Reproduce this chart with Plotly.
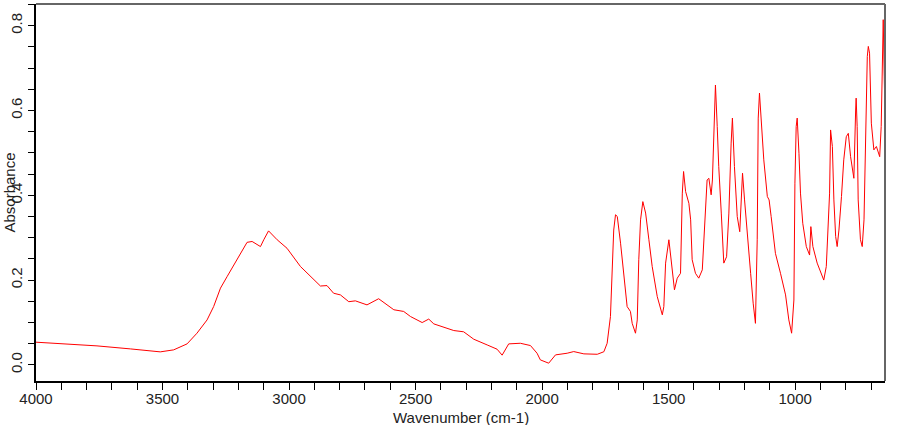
import plotly.graph_objects as go

wavenumber = [4000, 3891, 3759, 3627, 3509, 3456, 3403, 3364, 3324, 3298, 3271, 3245, 3205, 3166, 3146,
              3113, 3100, 3081, 3047, 3008, 2955, 2916, 2876, 2850, 2824, 2797, 2764, 2738, 2692, 2646,
              2586, 2547, 2520, 2474, 2448, 2428, 2389, 2349, 2310, 2270, 2217, 2178, 2158, 2132, 2086,
              2046, 2020, 2007, 1974, 1947, 1901, 1875, 1835, 1782, 1756, 1743, 1730, 1723, 1717, 1710,
              1703, 1690, 1677, 1664, 1651, 1644, 1631, 1624, 1618, 1611, 1602, 1591, 1578, 1565, 1545,
              1525, 1519, 1512, 1499, 1486, 1477, 1466, 1453, 1446, 1441, 1433, 1420, 1413, 1407, 1394,
              1381, 1367, 1358, 1348, 1341, 1332, 1327, 1321, 1315, 1308, 1302, 1292, 1282, 1271, 1262,
              1253, 1248, 1240, 1229, 1219, 1213, 1208, 1200, 1189, 1176, 1166, 1157, 1150, 1146, 1141,
              1134, 1124, 1110, 1103, 1095, 1078, 1058, 1038, 1025, 1014, 1005, 1001, 996, 992, 985,
              979, 970, 956, 943, 938, 930, 913, 887, 877, 871, 864, 860, 853, 847, 840,
              834, 827, 817, 808, 798, 790, 781, 768, 761, 759, 755, 751, 742, 735, 728,
              722, 715, 711, 706, 699, 689, 679, 666, 660, 656, 652, 648, 646]

absorbance = [0.0535, 0.0495, 0.0448, 0.0377, 0.0307, 0.0354, 0.0495, 0.0747, 0.106, 0.1375, 0.181, 0.208, 0.248, 0.289, 0.291,
              0.279, 0.295, 0.316, 0.295, 0.275, 0.232, 0.210, 0.186, 0.187, 0.169, 0.165, 0.149, 0.151, 0.1415, 0.156,
              0.130, 0.126, 0.114, 0.0998, 0.108, 0.0967, 0.0889, 0.081, 0.078, 0.0605, 0.047, 0.037, 0.0229, 0.0495, 0.051,
              0.0456, 0.0275, 0.0118, 0.004, 0.0236, 0.0275, 0.0314, 0.026, 0.025, 0.031, 0.051, 0.114, 0.248, 0.318, 0.354,
              0.350, 0.287, 0.208, 0.1375, 0.126, 0.098, 0.0747, 0.106, 0.248, 0.342, 0.385, 0.358, 0.295, 0.232, 0.161,
              0.118, 0.1375, 0.240, 0.295, 0.232, 0.177, 0.2045, 0.216, 0.405, 0.456, 0.409, 0.381, 0.342, 0.248, 0.216,
              0.2045, 0.224, 0.334, 0.436, 0.440, 0.401, 0.436, 0.554, 0.660, 0.562, 0.468, 0.358, 0.240, 0.255, 0.358,
              0.523, 0.582, 0.468, 0.350, 0.314, 0.397, 0.452, 0.389, 0.318, 0.216, 0.1455, 0.098, 0.295, 0.582, 0.641,
              0.578, 0.4835, 0.397, 0.389, 0.350, 0.263, 0.216, 0.165, 0.106, 0.0747, 0.153, 0.4285, 0.562, 0.582, 0.499,
              0.405, 0.334, 0.279, 0.259, 0.326, 0.279, 0.240, 0.200, 0.232, 0.311, 0.405, 0.554, 0.515, 0.389, 0.303,
              0.279, 0.318, 0.397, 0.4835, 0.538, 0.546, 0.491, 0.440, 0.601, 0.629, 0.562, 0.389, 0.295, 0.279, 0.342,
              0.554, 0.727, 0.751, 0.735, 0.570, 0.507, 0.515, 0.491, 0.562, 0.759, 0.814, 0.680, 0.617]

x_title = "Wavenumber (cm-1)"
y_title = "Absorbance"

font_family = "Liberation Sans, Arial, sans-serif"
text_color = "#222222"

fig = go.Figure()
fig.add_trace(go.Scatter(x=wavenumber, y=absorbance, mode="lines",
                         line=dict(color="#ff0000", width=1), showlegend=False, hoverinfo="skip"))

fig.update_layout(
    width=910, height=425,
    margin=dict(l=36, r=25, t=4, b=44),
    paper_bgcolor="white", plot_bgcolor="white",
    font=dict(family=font_family, size=15, color=text_color),
    xaxis=dict(
        range=[4000, 645], showgrid=False, zeroline=False, automargin=False,
        showline=True, linecolor="#000000", linewidth=2,
        ticks="outside", ticklen=7, tickwidth=1, tickcolor="#000000",
        dtick=500, tick0=0, ticklabelstandoff=-4,
        minor=dict(dtick=100, tick0=0, ticks="outside", ticklen=7, tickcolor="#000000", tickwidth=1),
        tickfont=dict(size=15, color=text_color),
    ),
    yaxis=dict(
        range=[-0.038, 0.851], showgrid=False, zeroline=False, automargin=False,
        showline=True, linecolor="#000000", linewidth=2,
        ticks="outside", ticklen=6, tickwidth=1, tickcolor="#000000",
        dtick=0.2, tick0=0, tickformat=".1f", tickangle=-90,
        minor=dict(dtick=0.05, tick0=0, ticks="outside", ticklen=6, tickcolor="#000000", tickwidth=1),
        tickfont=dict(size=15, color=text_color),
    ),
    annotations=[
        dict(text=y_title, xref="paper", yref="paper", x=-0.0318, y=0.5,
             xanchor="center", yanchor="middle", textangle=-90, showarrow=False,
             font=dict(size=15, color=text_color)),
        dict(text=x_title, xref="paper", yref="paper", x=0.5, y=-0.0955,
             xanchor="center", yanchor="middle", showarrow=False,
             font=dict(size=15, color=text_color)),
    ],
    shapes=[
        dict(type="line", xref="paper", yref="paper", x0=0, x1=1, y0=1, y1=1,
             line=dict(color="#666666", width=2)),
        dict(type="line", xref="paper", yref="paper", x0=1, x1=1, y0=0, y1=1,
             line=dict(color="#666666", width=2)),
    ],
)

fig.write_html("out.html")
